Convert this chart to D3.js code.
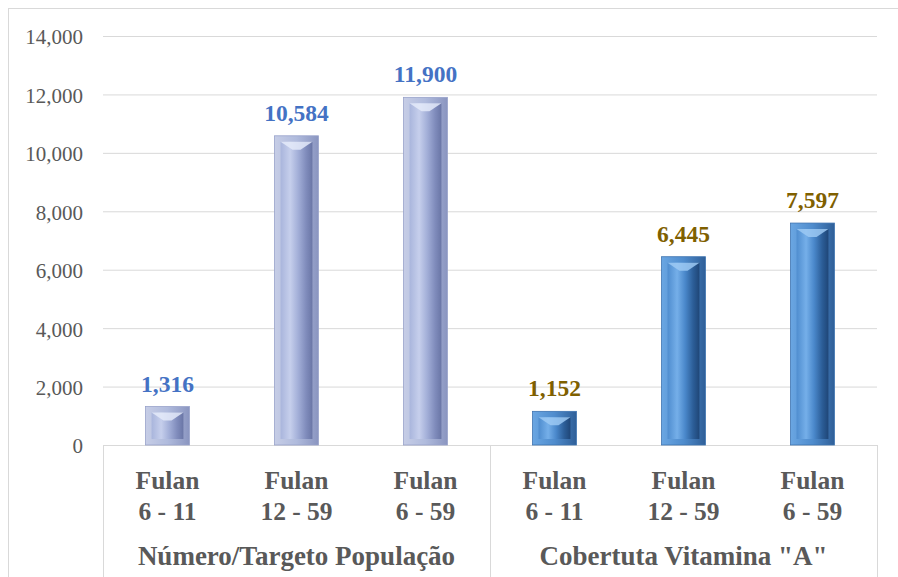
<!DOCTYPE html>
<html><head><meta charset="utf-8">
<script src="https://cdn.jsdelivr.net/npm/d3@7"></script>
<style>body{margin:0;background:#fff}svg{display:block}</style>
</head><body>
<svg id="c" width="898" height="577"></svg>
<script>
const categories = ["Fulan|6 - 11","Fulan|12 - 59","Fulan|6 - 59","Fulan|6 - 11","Fulan|12 - 59","Fulan|6 - 59"];
const groups = ["Número/Targeto População","Cobertuta Vitamina \"A\""];
const groupOf = [0,0,0,1,1,1];
const values = [1316,10584,11900,1152,6445,7597];
const yTicks = [0,2000,4000,6000,8000,10000,12000,14000];

const svg = d3.select("#c");
const L=103, R=877, T=36, B=445;
const x = d3.scaleBand().domain(d3.range(categories.length)).range([L,R]).paddingInner(0.66).paddingOuter(0.33);
const y = d3.scaleLinear().domain([0,14000]).range([B,T]);
const fmt = d3.format(",");
const serif = "'Liberation Serif','Times New Roman',serif";

svg.append("rect").attr("x",8.5).attr("y",8.5).attr("width",1000).attr("height",1000).attr("fill","none").attr("stroke","#d9d9d9");

const defs = svg.append("defs");
function grad(id, stops){
  const g = defs.append("linearGradient").attr("id",id).attr("x1","0").attr("x2","1").attr("y1","0").attr("y2","0");
  stops.forEach(s=>g.append("stop").attr("offset",s[0]).attr("stop-color",s[1]));
}
const pal = [
  {outer:[[0,"#c6cde6"],[0.5,"#b0bbdd"],[1,"#8a95c0"]], inner:[[0,"#a9b5dc"],[0.3,"#c6cfec"],[0.55,"#a3afd8"],[0.8,"#808cbc"],[1,"#6a76a6"]], tri:"#e4eaf9", edge:"#98a2ca"},
  {outer:[[0,"#6aa6e2"],[0.5,"#4f8ccd"],[1,"#2f5f98"]], inner:[[0,"#4f8dcf"],[0.3,"#75afe9"],[0.55,"#4a88cb"],[0.8,"#2c5e98"],[1,"#1f4677"]], tri:"#9cc9f3", edge:"#3d73b0"}
];
pal.forEach((p,i)=>{grad("o"+i,p.outer);grad("i"+i,p.inner);});

const ya = svg.append("g").attr("transform",`translate(${L},0)`)
  .call(d3.axisLeft(y).tickValues(yTicks).tickSize(-(R-L)).tickPadding(20).tickFormat(fmt));
ya.select(".domain").remove();
ya.selectAll(".tick line").attr("stroke","#d9d9d9");
ya.selectAll(".tick text").attr("fill","#595959").attr("dy","0.38em").style("font-family",serif).style("font-size","21px");

svg.append("line").attr("x1",L).attr("x2",R).attr("y1",B+0.5).attr("y2",B+0.5).attr("stroke","#d9d9d9");
[L, (x(2)+x.bandwidth()+x(3))/2, R].forEach(v=>{
  svg.append("line").attr("x1",Math.round(v)+0.5).attr("x2",Math.round(v)+0.5).attr("y1",B).attr("y2",577).attr("stroke","#d9d9d9");
});

const bars = svg.append("g").selectAll("g").data(values).join("g");
bars.each(function(d,i){
  const g = d3.select(this), gi = groupOf[i], p = pal[gi];
  const bx = x(i), bw = x.bandwidth(), by = y(d), bh = y(0)-y(d);
  g.append("rect").attr("x",bx).attr("y",by).attr("width",bw).attr("height",bh).attr("fill",`url(#o${gi})`).attr("stroke",p.edge).attr("stroke-width",0.8);
  const ins = Math.min(6, bh/4);
  g.append("rect").attr("x",bx+6).attr("y",by+ins).attr("width",bw-12).attr("height",Math.max(0,bh-2*ins)).attr("fill",`url(#i${gi})`);
  const tw = 8, th = Math.min(8, bh/3);
  g.append("path").attr("d",`M${bx+6},${by+ins}L${bx+bw-6},${by+ins}L${bx+bw/2+tw/2},${by+ins+th}L${bx+bw/2-tw/2},${by+ins+th}Z`).attr("fill",p.tri).attr("opacity",0.85);
});

svg.append("g").selectAll("text").data(values).join("text")
  .attr("x",(d,i)=>x(i)+x.bandwidth()/2).attr("y",d=>y(d)-15)
  .attr("text-anchor","middle")
  .attr("fill",(d,i)=>groupOf[i]===0?"#4472c4":"#7f6000")
  .style("font-family",serif).style("font-weight","bold").style("font-size","23.5px")
  .text(d=>fmt(d));

const cl = svg.append("g").selectAll("text").data(categories).join("text")
  .attr("x",(d,i)=>x(i)+x.bandwidth()/2).attr("y",489)
  .attr("text-anchor","middle").attr("fill","#595959")
  .style("font-family",serif).style("font-weight","bold").style("font-size","25.5px");
cl.each(function(d){
  const parts = d.split("|"), t = d3.select(this);
  parts.forEach((s,k)=>t.append("tspan").attr("x",t.attr("x")).attr("dy",k?31:0).text(s));
});

svg.append("g").selectAll("text").data(groups).join("text")
  .attr("x",(d,gi)=>{const idx=d3.range(values.length).filter(i=>groupOf[i]===gi);return (x(idx[0])+x(idx[idx.length-1])+x.bandwidth())/2;})
  .attr("y",565).attr("text-anchor","middle").attr("fill","#595959")
  .style("font-family",serif).style("font-weight","bold").style("font-size","27px")
  .text(d=>d);
</script>
</body></html>
